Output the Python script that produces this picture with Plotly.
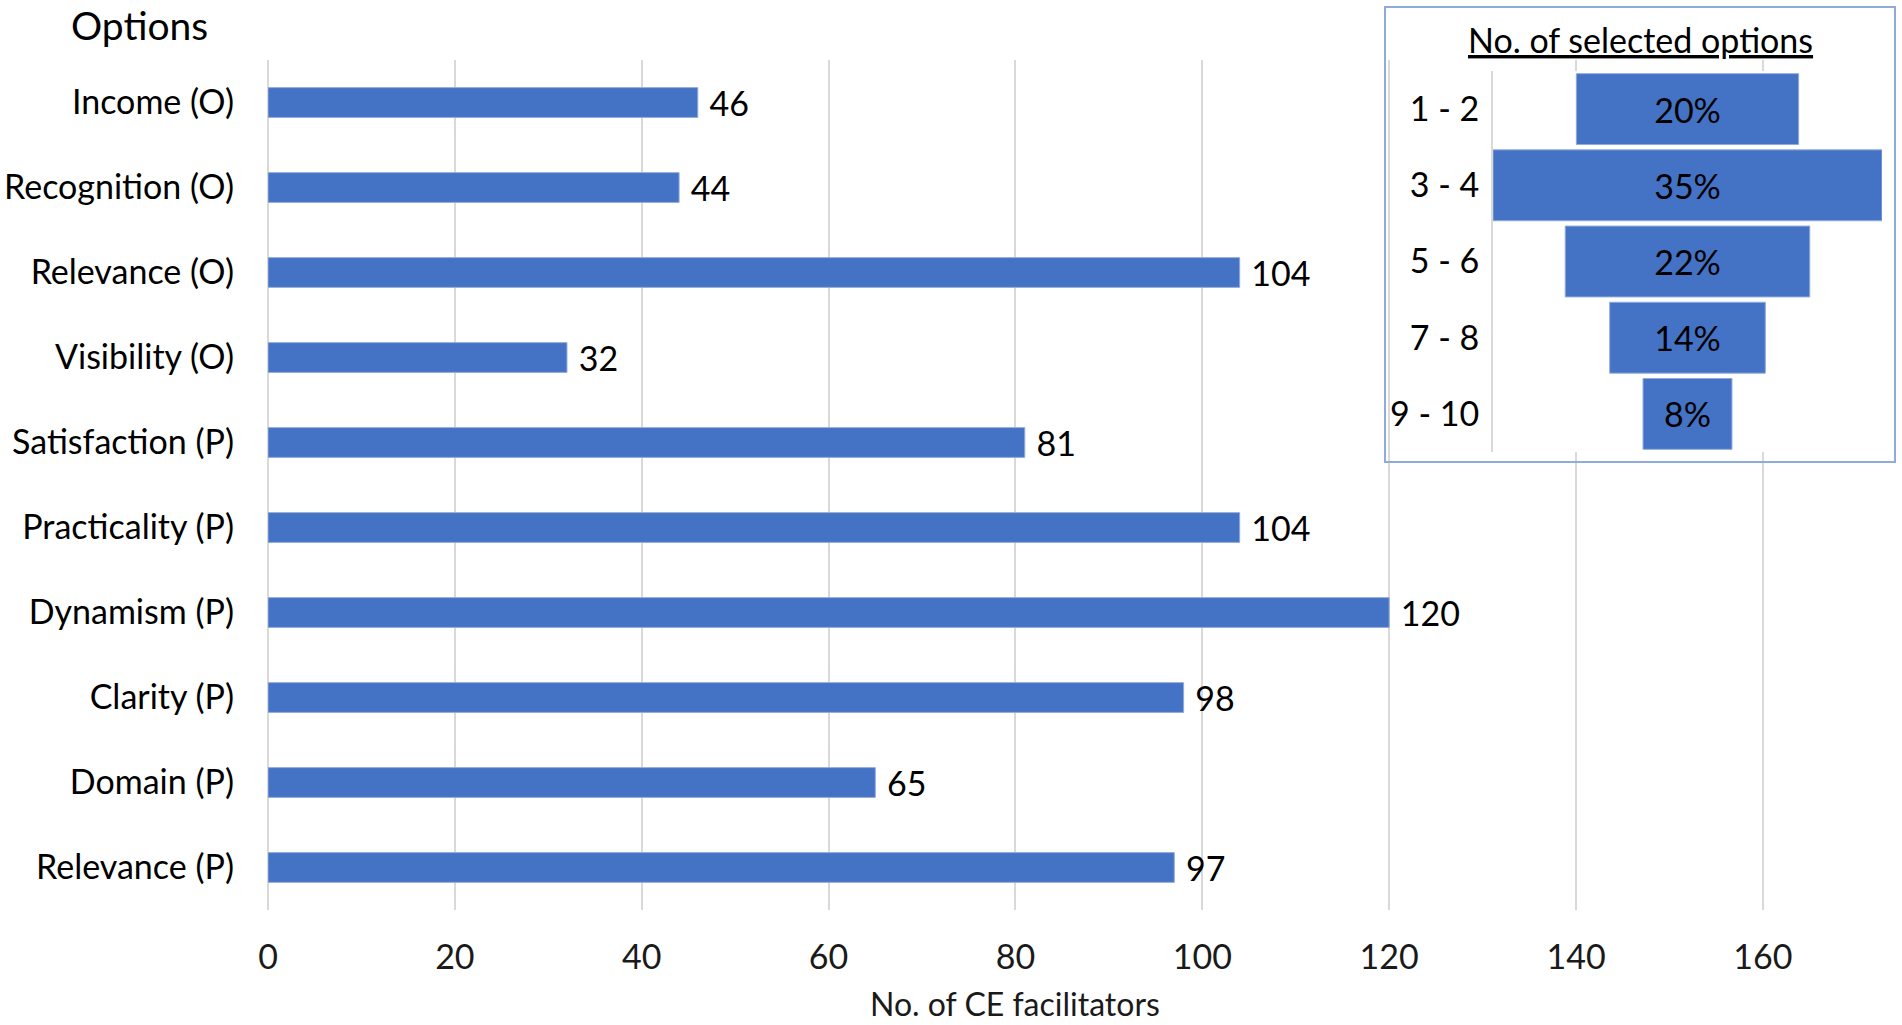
import plotly.graph_objects as go

# ---- data ----
categories = ["Income (O)", "Recognition (O)", "Relevance (O)", "Visibility (O)",
              "Satisfaction (P)", "Practicality (P)", "Dynamism (P)", "Clarity (P)",
              "Domain (P)", "Relevance (P)"]
facilitators = [46, 44, 104, 32, 81, 104, 120, 98, 65, 97]

inset_cats = ["1 - 2", "3 - 4", "5 - 6", "7 - 8", "9 - 10"]
inset_pct = [20, 35, 22, 14, 8]
inset_labels = [f"{v}%" for v in inset_pct]

x_ticks = [0, 20, 40, 60, 80, 100, 120, 140, 160]

BLUE = "#4472C4"
FONT = "Lato"
FS = 34
W, H = 1902, 1025

def py(pix):  # pixel from top -> paper y
    return 1 - pix / H

def px(pix):
    return pix / W

fig = go.Figure()

fig.add_trace(go.Bar(
    y=categories, x=facilitators, orientation="h",
    marker=dict(color=BLUE, line=dict(color="#8FAADC", width=1)),
    width=0.35,
    text=[" " + str(v) for v in facilitators], textposition="outside",
    constraintext="none",
    textfont=dict(family=FONT, size=FS, color="black"),
    cliponaxis=False,
    xaxis="x", yaxis="y", showlegend=False,
))

fig.add_trace(go.Funnel(
    y=inset_cats, x=inset_pct,
    marker=dict(color=BLUE, line=dict(color="#8FAADC", width=1)),
    connector=dict(visible=False),
    text=inset_labels, textinfo="text", textposition="inside",
    insidetextanchor="middle", constraintext="none",
    textfont=dict(family=FONT, size=FS, color="black"),
    width=0.93,
    xaxis="x3", yaxis="y3", showlegend=False,
))

fig.update_layout(
    width=W, height=H,
    margin=dict(l=0, r=0, t=0, b=0, autoexpand=False),
    paper_bgcolor="white", plot_bgcolor="white",
    font=dict(family=FONT, size=FS, color="black"),
    xaxis=dict(
        domain=[px(268), px(1875)], range=[0, 172],
        tickvals=x_ticks, ticktext=[str(t) for t in x_ticks],
        showgrid=True, gridcolor="#D9D9D9", gridwidth=2,
        zeroline=True, zerolinecolor="#D9D9D9", zerolinewidth=2,
        showline=False, ticks="", ticklabelstandoff=24, automargin=False,
        tickfont=dict(family=FONT, size=FS, color="#1a1a1a"),
    ),
    yaxis=dict(
        domain=[py(910), py(60)],
        categoryorder="array", categoryarray=categories,
        autorange="reversed", automargin=False,
        showgrid=False, zeroline=False, showline=False, ticks="",
        ticklabelstandoff=33,
        tickfont=dict(family=FONT, size=FS, color="black"),
    ),
    # white backdrop for the inset (hides main gridlines)
    xaxis2=dict(domain=[px(1385), px(1895)], anchor="y2", visible=False,
                range=[0, 1]),
    yaxis2=dict(domain=[py(462), py(7)], anchor="x2", visible=False,
                range=[0, 1]),
    xaxis3=dict(
        domain=[px(1493), px(1882)], range=[-17.5, 17.5],
        anchor="y3", visible=False,
    ),
    yaxis3=dict(
        domain=[py(452), py(71)], anchor="x3",
        categoryorder="array", categoryarray=inset_cats,
        autorange="reversed", automargin=False,
        showgrid=False, zeroline=False,
        showline=True, linecolor="#D9D9D9", linewidth=2,
        ticks="", ticklabelstandoff=5,
        tickfont=dict(family=FONT, size=FS, color="black"),
    ),
    shapes=[dict(
        type="rect", xref="paper", yref="paper",
        x0=px(1385), x1=px(1895), y0=py(462), y1=py(7),
        line=dict(color="#8FAADC", width=2), fillcolor="rgba(0,0,0,0)",
        layer="above",
    )],
    annotations=[
        dict(text="Options", xref="paper", yref="paper",
             x=px(139), y=py(25), xanchor="center", yanchor="middle",
             showarrow=False, font=dict(family=FONT, size=39, color="black")),
        dict(text="No. of CE facilitators", xref="paper", yref="paper",
             x=px(1015), y=py(1003), xanchor="center", yanchor="middle",
             showarrow=False, font=dict(family=FONT, size=32, color="#1a1a1a")),
        dict(text="<u>No. of selected options</u>", xref="paper", yref="paper",
             x=px(1640), y=py(39), xanchor="center", yanchor="middle",
             showarrow=False, font=dict(family=FONT, size=34, color="black")),
    ],
)

fig.write_html("out.html", config={"displayModeBar": False},
               post_script="document.body.style.margin='0';")
